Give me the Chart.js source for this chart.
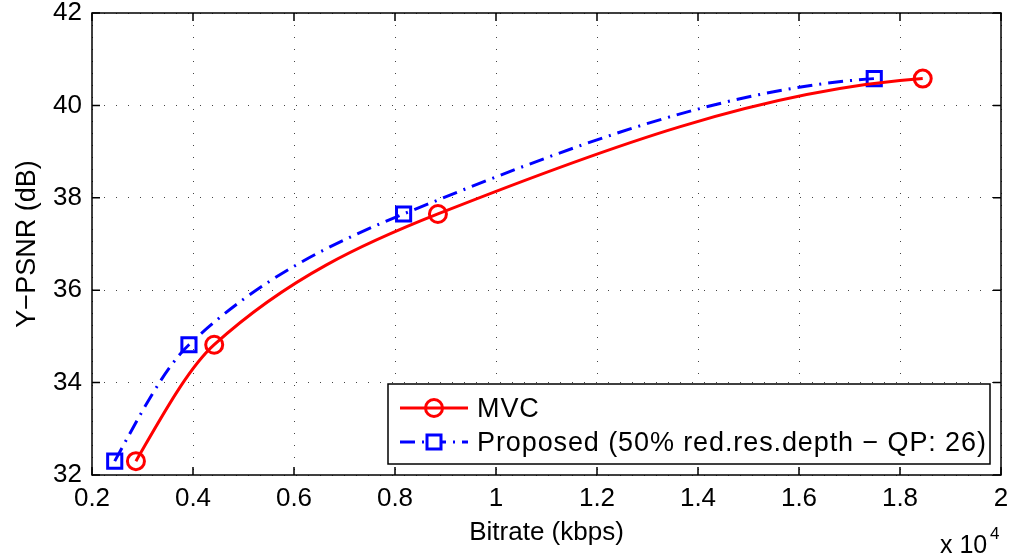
<!DOCTYPE html>
<html>
<head>
<meta charset="utf-8">
<script src="https://cdn.jsdelivr.net/npm/chart.js@4/dist/chart.umd.min.js"></script>
<style>
html, body { margin: 0; padding: 0; background: #fff; }
#wrap { width: 1014px; height: 560px; }
</style>
</head>
<body>
<div id="wrap"><canvas id="rd" width="1014" height="560"></canvas></div>
<script>
// rate-distortion points, bitrate in kbps
var mvcRate  = [2870, 4420, 8850, 18450];
var mvcPsnr  = [32.30, 34.82, 37.65, 40.58];
var propRate = [2450, 3920, 8170, 17490];
var propPsnr = [32.30, 34.82, 37.65, 40.58];

var xTickValues = [2000, 4000, 6000, 8000, 10000, 12000, 14000, 16000, 18000, 20000];
var xTickLabels = ['0.2', '0.4', '0.6', '0.8', '1', '1.2', '1.4', '1.6', '1.8', '2'];
var yTickValues = [32, 34, 36, 38, 40, 42];

var seriesNames = ['MVC', 'Proposed (50% red.res.depth \u2212 QP: 26)'];

var FONT = 'Liberation Sans, Arial, Helvetica, sans-serif';
var DASHDOT = [15, 7, 2, 7];

function toPoints(xs, ys) {
    return xs.map(function(x, i) { return { x: x, y: ys[i] }; });
}

// shape-preserving cubic (pchip) tangents, like the original plot
function pchipSlopes(px, py) {
    var n = px.length, h = [], d = [], m = [];
    for (var i = 0; i < n - 1; i++) {
	h[i] = px[i + 1] - px[i];
	d[i] = (py[i + 1] - py[i]) / h[i];
    }
    for (i = 1; i < n - 1; i++) {
	if (d[i - 1] * d[i] <= 0) { m[i] = 0; continue; }
	var w1 = 2 * h[i] + h[i - 1], w2 = h[i] + 2 * h[i - 1];
	m[i] = (w1 + w2) / (w1 / d[i - 1] + w2 / d[i]);
    }
    function endSlope(h0, h1, d0, d1) {
	var s = ((2 * h0 + h1) * d0 - h0 * d1) / (h0 + h1);
	if (s * d0 <= 0) s = 0;
	else if (d0 * d1 <= 0 && Math.abs(s) > Math.abs(3 * d0)) s = 3 * d0;
	return s;
    }
    m[0] = endSlope(h[0], h[1], d[0], d[1]);
    m[n - 1] = endSlope(h[n - 2], h[n - 3], d[n - 2], d[n - 3]);
    return m;
}

var pchipLines = {
    id: 'pchipLines',
    beforeDatasetDraw: function(chart, args) {
	var meta = args.meta, pts = meta.data;
	if (!pts || pts.length < 3) return;
	var px = pts.map(function(p) { return p.x; });
	var py = pts.map(function(p) { return p.y; });
	var m = pchipSlopes(px, py);
	for (var i = 0; i < pts.length; i++) {
	    var hp = i > 0 ? (px[i] - px[i - 1]) / 3 : 0;
	    var hn = i < pts.length - 1 ? (px[i + 1] - px[i]) / 3 : 0;
	    pts[i].cp1x = px[i] - hp; pts[i].cp1y = py[i] - m[i] * hp;
	    pts[i].cp2x = px[i] + hn; pts[i].cp2y = py[i] + m[i] * hn;
	}
	meta.dataset._pointsUpdated = true;
	meta.dataset._path = undefined;
    }
};

// box around the axes, inward ticks on all sides, exponent and legend
var matlabFrame = {
    id: 'matlabFrame',
    afterDatasetsDraw: function(chart) {
	var ctx = chart.ctx;
	var a = chart.chartArea;
	var xs = chart.scales.x, ys = chart.scales.y;
	var tl = 8;
	ctx.save();
	ctx.strokeStyle = '#000';
	ctx.lineWidth = 1.5;
	ctx.strokeRect(a.left, a.top, a.right - a.left, a.bottom - a.top);
	ctx.beginPath();
	xTickValues.forEach(function(v) {
	    var px = xs.getPixelForValue(v);
	    ctx.moveTo(px, a.bottom); ctx.lineTo(px, a.bottom - tl);
	    ctx.moveTo(px, a.top); ctx.lineTo(px, a.top + tl);
	});
	yTickValues.forEach(function(v) {
	    var py = ys.getPixelForValue(v);
	    ctx.moveTo(a.left, py); ctx.lineTo(a.left + tl, py);
	    ctx.moveTo(a.right, py); ctx.lineTo(a.right - tl, py);
	});
	ctx.stroke();

	// x 10^4 multiplier
	ctx.fillStyle = '#000';
	ctx.textBaseline = 'alphabetic';
	ctx.textAlign = 'left';
	ctx.font = '25px ' + FONT;
	ctx.fillText('x 10', 940, 553);
	ctx.font = '17px ' + FONT;
	ctx.fillText('4', 990, 539);

	// legend
	var lx = 388, ly = 384, lw = 602, lh = 80;
	ctx.fillStyle = '#fff';
	ctx.fillRect(lx, ly, lw, lh);
	ctx.lineWidth = 1.5;
	ctx.strokeStyle = '#000';
	ctx.strokeRect(lx, ly, lw, lh);
	var rows = [ly + 24, ly + 58];
	chart.data.datasets.forEach(function(ds, i) {
	    var y = rows[i];
	    ctx.strokeStyle = ds.borderColor;
	    ctx.lineWidth = 3;
	    ctx.setLineDash(ds.borderDash || []);
	    ctx.beginPath();
	    ctx.moveTo(400, y); ctx.lineTo(468, y);
	    ctx.stroke();
	    ctx.setLineDash([]);
	    ctx.beginPath();
	    if (ds.pointStyle === 'rect') {
		ctx.fillStyle = '#fff';
		ctx.fillRect(427, y - 7, 14, 14);
		ctx.rect(427, y - 7, 14, 14);
	    } else {
		ctx.arc(434, y, 8.5, 0, Math.PI * 2);
	    }
	    ctx.stroke();
	    ctx.fillStyle = '#000';
	    ctx.font = '27px ' + FONT;
	    ctx.letterSpacing = '0.9px';
	    ctx.textBaseline = 'alphabetic';
	    ctx.fillText(ds.label, 477, y + 9);
	    ctx.letterSpacing = '0px';
	});
	ctx.restore();
    }
};

var gridStyle = {
    color: '#444',
    lineWidth: 1,
    tickLength: 0,
    drawTicks: false
};

new Chart(document.getElementById('rd').getContext('2d'), {
    type: 'line',
    data: {
	datasets: [
	    { label: seriesNames[0],
	      data: toPoints(mvcRate, mvcPsnr),
	      borderColor: '#ff0000',
	      backgroundColor: 'transparent',
	      borderWidth: 3,
	      cubicInterpolationMode: 'monotone',
	      pointStyle: 'circle',
	      pointRadius: 8.5,
	      pointBorderWidth: 3,
	      pointBorderColor: '#ff0000',
	      pointBackgroundColor: 'transparent' },
	    { label: seriesNames[1],
	      data: toPoints(propRate, propPsnr),
	      borderColor: '#0000ff',
	      backgroundColor: 'transparent',
	      borderWidth: 3,
	      borderDash: DASHDOT,
	      cubicInterpolationMode: 'monotone',
	      pointStyle: 'rect',
	      pointRadius: 10,
	      pointBorderWidth: 3,
	      pointBorderColor: '#0000ff',
	      pointBackgroundColor: 'transparent' }
	]
    },
    options: {
	responsive: false,
	animation: false,
	devicePixelRatio: 1,
	layout: { padding: { left: 0, top: 11, right: 12, bottom: 0 } },
	plugins: { legend: { display: false }, tooltip: { enabled: false } },
	scales: {
	    x: {
		type: 'linear',
		min: 2000, max: 20000,
		afterFit: function(s) {
		    s.height = 85;
		    s.paddingLeft = 0; s.paddingRight = 0;
		},
		afterBuildTicks: function(s) {
		    s.ticks = xTickValues.map(function(v) { return { value: v }; });
		},
		ticks: {
		    color: '#000',
		    padding: 8,
		    maxRotation: 0,
		    font: { family: FONT, size: 26 },
		    callback: function(v) { return xTickLabels[xTickValues.indexOf(v)]; }
		},
		grid: Object.assign({}, gridStyle),
		border: { display: false, dash: [1, 11] },
		title: {
		    display: true,
		    text: 'Bitrate (kbps)',
		    color: '#000',
		    font: { family: FONT, size: 26 },
		    padding: { top: 0, bottom: 12 }
		}
	    },
	    y: {
		type: 'linear',
		min: 32, max: 42,
		afterFit: function(s) {
		    s.width = 92;
		    s.paddingTop = 0; s.paddingBottom = 0;
		},
		afterBuildTicks: function(s) {
		    s.ticks = yTickValues.map(function(v) { return { value: v }; });
		},
		ticks: {
		    color: '#000',
		    padding: 10,
		    font: { family: FONT, size: 26 }
		},
		grid: Object.assign({}, gridStyle),
		border: { display: false, dash: [1, 11] },
		title: {
		    display: true,
		    text: 'Y\u2212PSNR (dB)',
		    color: '#000',
		    font: { family: FONT, size: 27 },
		    padding: { top: 11, bottom: 0 }
		}
	    }
	}
    },
    plugins: [pchipLines, matlabFrame]
});
</script>
</body>
</html>
